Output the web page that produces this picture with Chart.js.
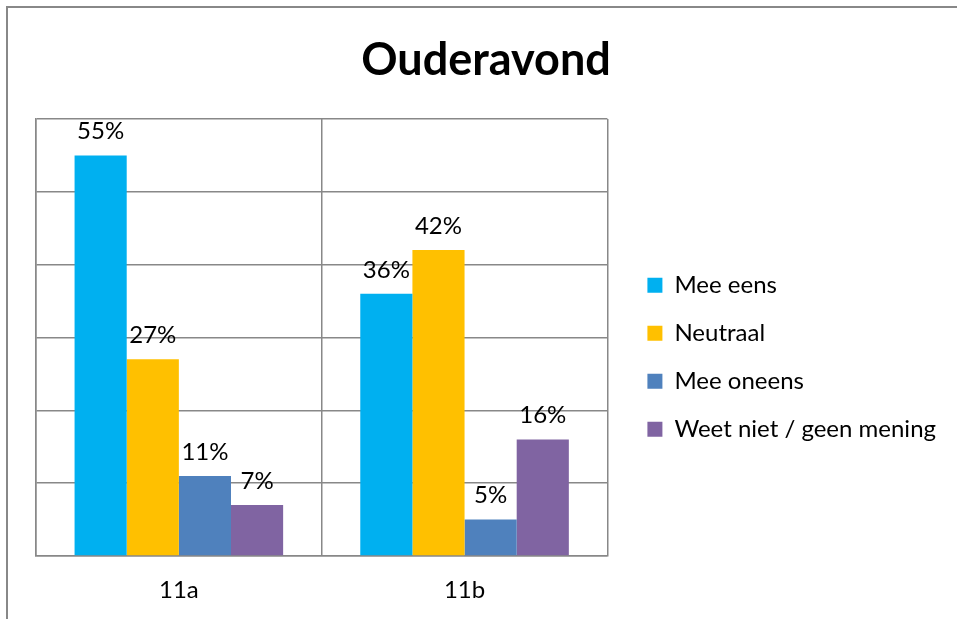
<!DOCTYPE html>
<html>
<head>
<meta charset="utf-8">
<script src="https://cdn.jsdelivr.net/npm/chart.js@4"></script>
<style>
  body { margin: 0; background: #fff; }
  #wrap { width: 957px; height: 619px; }
</style>
</head>
<body>
<div id="wrap"><canvas id="grafiek"></canvas></div>
<script>
// gegevens
const klassen = ['11a', '11b'];
const reeksen = ['Mee eens', 'Neutraal', 'Mee oneens', 'Weet niet / geen mening'];
const meeEens = [55, 36];
const neutraal = [27, 42];
const meeOneens = [11, 5];
const weetNiet = [7, 16];
const kleuren = ['#00B0F0', '#FFC000', '#4F81BD', '#8064A2'];

const lettertype = 'Lato, "Open Sans", sans-serif';

// kader rond de grafiek
const kader = {
  id: 'kader',
  beforeDraw(chart) {
    const c = chart.ctx;
    c.save();
    c.strokeStyle = '#888888';
    c.lineWidth = 2;
    c.strokeRect(7, 7, 2000, 2000);
    c.restore();
  }
};

// percentages boven de staven
const labels = {
  id: 'labels',
  afterDatasetsDraw(chart) {
    const c = chart.ctx;
    c.save();
    c.font = '24px ' + lettertype;
    c.fillStyle = '#000';
    c.textAlign = 'center';
    c.textBaseline = 'bottom';
    chart.data.datasets.forEach((ds, i) => {
      chart.getDatasetMeta(i).data.forEach((bar, j) => {
        c.fillText(ds.data[j] + '%', bar.x, bar.y - 12);
      });
    });
    c.restore();
  }
};

const reeksData = [meeEens, neutraal, meeOneens, weetNiet];

new Chart(document.getElementById('grafiek'), {
  type: 'bar',
  data: {
    labels: klassen,
    datasets: reeksen.map((naam, i) => ({
      label: naam,
      data: reeksData[i],
      backgroundColor: kleuren[i],
      categoryPercentage: 0.73,
      barPercentage: 1
    }))
  },
  options: {
    responsive: true,
    maintainAspectRatio: false,
    animation: false,
    layout: { padding: { left: 26, right: 11, top: 0, bottom: 0 } },
    plugins: {
      title: {
        display: true,
        text: 'Ouderavond',
        color: '#000',
        font: { family: lettertype, size: 45, weight: 'bold' },
        padding: { top: 33, bottom: 32 }
      },
      legend: {
        position: 'right',
        align: 'center',
        maxWidth: 400,
        // lege titel om de items iets omlaag te schuiven
        title: { display: true, text: '', padding: { top: 81, bottom: 0 } },
        labels: {
          color: '#000',
          font: { family: lettertype, size: 24 },
          boxWidth: 15,
          boxHeight: 15,
          padding: 24
        }
      },
      tooltip: { enabled: false }
    },
    scales: {
      x: {
        grid: { color: '#888888', lineWidth: 1.5, drawTicks: false, offset: true },
        border: { color: '#888888', width: 1.5 },
        ticks: { color: '#000', font: { family: lettertype, size: 24 }, padding: 20 },
        afterFit(s) { s.height = 63; }
      },
      y: {
        min: 0,
        max: 60,
        ticks: { display: false, stepSize: 10 },
        grid: { color: '#888888', lineWidth: 1.5, drawTicks: false },
        border: { color: '#888888', width: 1.5 },
        afterFit(s) { s.width = 10; }
      },
      // ruimte tussen plot en legenda
      ruimte: {
        type: 'linear',
        position: 'right',
        min: 0,
        max: 1,
        ticks: { display: false },
        grid: { display: false, drawTicks: false },
        border: { display: false },
        afterFit(s) { s.width = 16; }
      }
    }
  },
  plugins: [kader, labels]
});
</script>
</body>
</html>
